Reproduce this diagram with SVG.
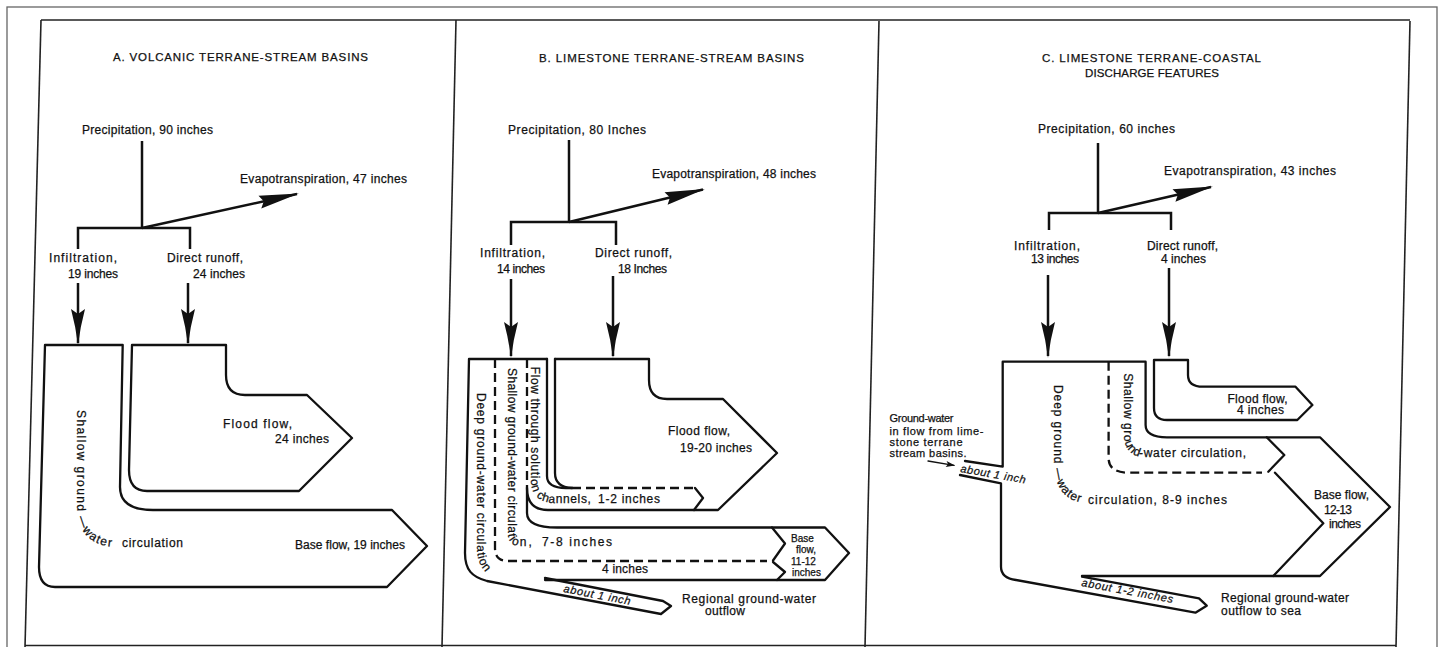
<svg xmlns="http://www.w3.org/2000/svg" width="1439" height="647" viewBox="0 0 1439 647">
<style>
.ln{fill:none;stroke:#111;stroke-width:2.3;stroke-linejoin:round;stroke-linecap:round}
.ds{fill:none;stroke:#111;stroke-width:2.3;stroke-dasharray:9 5}
.fr{fill:none;stroke:#222;stroke-width:1.6}
.of{fill:none;stroke:#666;stroke-width:1.3}
.ar{fill:none;stroke:#111;stroke-width:2.5}
text{font-family:"Liberation Sans",Arial,sans-serif;font-size:12px;fill:#111;stroke:#111;stroke-width:0.25}
.ti{font-size:11.5px}
.sm{font-size:11px}
.xs{font-size:10px}
.it{font-style:italic;font-size:11px}
</style>
<defs>
<marker id="mV" markerUnits="userSpaceOnUse" viewBox="-36 -8 40 16" refX="0" refY="0" markerWidth="40" markerHeight="16" orient="auto" overflow="visible">
<path d="M2,0 Q-16,-2.2 -34,-7 L-29,0 L-34,7 Q-16,2.2 2,0 Z" fill="#111"/>
</marker>
<marker id="mE" markerUnits="userSpaceOnUse" viewBox="-42 -8 46 16" refX="0" refY="0" markerWidth="46" markerHeight="16" orient="auto" overflow="visible">
<path d="M2,0 L-38,-6.5 L-34,0 L-38,6.5 Z" fill="#111"/>
</marker>
<marker id="mS" markerUnits="userSpaceOnUse" viewBox="-10 -4 12 8" refX="0" refY="0" markerWidth="12" markerHeight="8" orient="auto" overflow="visible">
<path d="M1,0 L-8,-3 L-6,0 L-8,3 Z" fill="#111"/>
</marker>
<path id="pA1" d="M77,405 V505 Q77,547 119,547 H124"/>
<path id="pB1" d="M477,390 V548 Q477,572 499,581"/>
<path id="pB2" d="M508,533 Q508,546 521,546 H545"/>
<path id="pB3" d="M531,362 V480 Q531,503 555,503 H605"/>
<path id="pC1" d="M1054,382 V462 Q1054,504 1094,504"/>
<path id="pC2" d="M1124,370 V434 Q1124,457.3 1147,457.3"/>
</defs>
<rect x="0" y="0" width="1439" height="647" fill="#fff"/>

<g id="frame">
<rect class="of" x="7" y="7" width="1430" height="650"/>
<path class="fr" d="M41,20 H1410"/>
<path class="fr" d="M41,20 L25,647"/>
<path class="fr" d="M456,20 L442,647"/>
<path class="fr" d="M879,21 L865,647"/>
<path class="fr" d="M1410,21 L1396,647"/>
<path class="fr" d="M25,645.5 H1396"/>
</g>

<g id="titles">
<text class="ti" x="113" y="61" textLength="255" lengthAdjust="spacing">A. VOLCANIC TERRANE-STREAM BASINS</text>
<text class="ti" x="539" y="62" textLength="265" lengthAdjust="spacing">B. LIMESTONE TERRANE-STREAM BASINS</text>
<text class="ti" x="1042" y="61.7" textLength="219" lengthAdjust="spacing">C. LIMESTONE TERRANE-COASTAL</text>
<text class="ti" x="1085" y="77.3" textLength="134" lengthAdjust="spacing">DISCHARGE FEATURES</text>
</g>

<!-- Panel A -->
<g id="A-precipitation"><text x="82" y="134" textLength="131" lengthAdjust="spacing">Precipitation, 90 inches</text></g>
<g id="A-evapotranspiration"><text x="240" y="183" textLength="167" lengthAdjust="spacing">Evapotranspiration, 47 inches</text></g>
<g id="A-infiltration"><text x="49" y="262" textLength="68" lengthAdjust="spacing">Infiltration,</text><text x="68" y="278" textLength="50" lengthAdjust="spacing">19 inches</text></g>
<g id="A-runoff"><text x="167" y="262" textLength="76" lengthAdjust="spacing">Direct runoff,</text><text x="193" y="278" textLength="52" lengthAdjust="spacing">24 inches</text></g>
<g id="A-baseflow">
<path class="ln" d="M45,345 H122.7 L120,487 Q120,510 153,510 H392 L427,546 L387,587 H55 Q39,587 39,567 Z"/>
<text x="295" y="549" textLength="110" lengthAdjust="spacing">Base flow, 19 inches</text>
<text letter-spacing="1.4"><textPath href="#pA1" startOffset="5">Shallow ground —water</textPath></text>
<text x="122" y="547" textLength="61" lengthAdjust="spacing">circulation</text>
</g>
<g id="A-floodflow">
<path class="ln" d="M132,345 H226 V375 Q226,395 245,395 H307 L352,438 L299,491 H147 Q129,491 129,470 Z"/>
<text x="223" y="428" textLength="69" lengthAdjust="spacing">Flood flow,</text>
<text x="275" y="443" textLength="54" lengthAdjust="spacing">24 inches</text>
</g>

<!-- Panel B -->
<g id="B-precipitation"><text x="508" y="134" textLength="138" lengthAdjust="spacing">Precipitation, 80 Inches</text></g>
<g id="B-evapotranspiration"><text x="652" y="178" textLength="164" lengthAdjust="spacing">Evapotranspiration, 48 inches</text></g>
<g id="B-infiltration"><text x="480" y="257" textLength="65" lengthAdjust="spacing">Infiltration,</text><text x="497" y="272.7" textLength="48" lengthAdjust="spacing">14 inches</text></g>
<g id="B-runoff"><text x="595" y="257" textLength="77" lengthAdjust="spacing">Direct runoff,</text><text x="618" y="272.7" textLength="49" lengthAdjust="spacing">18 Inches</text></g>
<g id="B-groundwater">
<path class="ln" d="M547,359 H469 L465,553 C465,570 472,577 487,581 L661,614 L671,606 L663,601 L545,578"/>
<path class="ln" d="M547,359 V476 Q547,488 566,488 H572"/>
<path class="ds" d="M527,359 V488"/>
<path class="ds" d="M495,359 V548 Q495,561 508,561 H767"/>
<path class="ln" d="M527,488 V513 Q527,527.5 557,527.5 H825 L849,553 L825,580 H545"/>
<path class="ln" d="M772,527.5 L785,543.5 L773,560.5"/>
<path class="ln" d="M773,562 L785,572 L777,580"/>
<text letter-spacing="0.75"><textPath href="#pB1" startOffset="3">Deep ground-water circulation</textPath></text>
<text transform="translate(508,368) rotate(90)" letter-spacing="0.4">Shallow ground-water circula</text>
<text letter-spacing="2"><textPath href="#pB2" startOffset="1">tion,</textPath></text>
<text x="542" y="545.5" textLength="70" lengthAdjust="spacing">7-8 inches</text>
<text letter-spacing="0.6"><textPath href="#pB3" startOffset="4.7">Flow through solution channels,</textPath></text>
<text x="598" y="503" textLength="62" lengthAdjust="spacing">1-2 inches</text>
<text x="602" y="573.3" textLength="46" lengthAdjust="spacing">4 inches</text>
<text class="it" transform="translate(563,592) rotate(11)" textLength="68" lengthAdjust="spacing">about 1 inch</text>
<text class="xs" x="791" y="541.7">Base</text>
<text class="xs" x="796" y="552.7">flow,</text>
<text class="xs" x="791" y="565">11-12</text>
<text class="xs" x="792" y="575.5">inches</text>
<text x="682" y="603.3" textLength="134" lengthAdjust="spacing">Regional ground-water</text>
<text x="705" y="615" textLength="40" lengthAdjust="spacing">outflow</text>
</g>
<g id="B-floodflow">
<path class="ln" d="M555,359 H649 V380 Q649,399 667,399 H723 L777,453 L718,510 H548 Q527,510 527,488"/>
<path class="ln" d="M555,359 V473 Q555,487 572,488"/>
<path class="ds" d="M572,488 H695"/>
<path class="ln" d="M695,488 L703,498 L694,510"/>
<text x="668" y="435" textLength="62" lengthAdjust="spacing">Flood flow,</text>
<text x="680" y="452" textLength="72" lengthAdjust="spacing">19-20 inches</text>
</g>

<!-- Panel C -->
<g id="C-precipitation"><text x="1038" y="133.3" textLength="137" lengthAdjust="spacing">Precipitation, 60 inches</text></g>
<g id="C-evapotranspiration"><text x="1164" y="175" textLength="172" lengthAdjust="spacing">Evapotranspiration, 43 inches</text></g>
<g id="C-infiltration"><text x="1014" y="250" textLength="66" lengthAdjust="spacing">Infiltration,</text><text x="1031" y="262.7" textLength="48" lengthAdjust="spacing">13 inches</text></g>
<g id="C-runoff"><text x="1147" y="250" textLength="71" lengthAdjust="spacing">Direct runoff,</text><text x="1161" y="262.7" textLength="45" lengthAdjust="spacing">4 inches</text></g>
<g id="C-groundwater">
<path class="ln" d="M965,461 L1002.7,466.7 V361.7 H1145.6 V425 Q1145.6,437.3 1167,437.3 H1320 L1390,507 L1320,576 H1082"/>
<path class="ln" d="M1082,576.7 L1199,598.3 L1206.7,605.7 L1195.4,612.7 L1016,580 Q1001,578 1001,566.7 V483.3 L960,475"/>
<path class="ln" d="M1266.7,437.3 L1284.3,455 L1268.3,471.7"/>
<path class="ln" d="M1275,472.7 L1323.3,523.3 L1273.3,576"/>
<path class="ds" d="M1108.6,361.7 V458 Q1108.6,472.7 1129,472.7 H1262"/>
<text letter-spacing="0.9"><textPath href="#pC1" startOffset="3">Deep ground —water</textPath></text>
<text x="1088" y="504.3" textLength="139" lengthAdjust="spacing">circulation, 8-9 inches</text>
<text letter-spacing="0.55"><textPath href="#pC2" startOffset="3.3">Shallow ground</textPath></text>
<text x="1139" y="457.3" textLength="107" lengthAdjust="spacing">-water circulation,</text>
<text x="1314" y="499" textLength="55" lengthAdjust="spacing">Base flow,</text>
<text x="1324" y="513.7" textLength="28" lengthAdjust="spacing">12-13</text>
<text x="1329" y="528.3" textLength="32" lengthAdjust="spacing">inches</text>
<text class="it" transform="translate(960,472) rotate(10)" textLength="66" lengthAdjust="spacing">about 1 inch</text>
<text class="it" transform="translate(1081,586) rotate(10.5)" textLength="93" lengthAdjust="spacing">about 1-2 inches</text>
<text x="1221" y="601.7" textLength="128" lengthAdjust="spacing">Regional ground-water</text>
<text x="1221" y="615" textLength="80" lengthAdjust="spacing">outflow to sea</text>
</g>
<g id="C-inflow">
<text class="sm" x="889.5" y="422.3" textLength="64" lengthAdjust="spacing">Ground-water</text>
<text class="sm" x="889.5" y="434.5" textLength="94" lengthAdjust="spacing">in flow from lime-</text>
<text class="sm" x="889.5" y="446.3" textLength="73" lengthAdjust="spacing">stone terrane</text>
<text class="sm" x="889.5" y="456.5" textLength="77" lengthAdjust="spacing">stream basins.</text>
</g>
<g id="C-floodflow">
<path class="ln" d="M1154,360 H1188 V375 Q1188,386.7 1203,386.7 H1295.5 L1312.4,405 L1297.3,420 H1167 Q1154,420 1154,408 Z"/>
<text x="1227.5" y="402.7" textLength="60" lengthAdjust="spacing">Flood flow,</text>
<text x="1237" y="414.3" textLength="47" lengthAdjust="spacing">4 inches</text>
</g>

<g id="connectors">
<path class="ar" d="M142,141 V228"/>
<path class="ar" d="M78,249 V228 H190 V249"/>
<path class="ar" d="M142,228 L297,194" marker-end="url(#mE)"/>
<path class="ar" d="M78,283 V343" marker-end="url(#mV)"/>
<path class="ar" d="M188,283 V343" marker-end="url(#mV)"/>

<path class="ar" d="M569,140 V222"/>
<path class="ar" d="M511,245 V222 H616 V245"/>
<path class="ar" d="M569,222 L703,189.5" marker-end="url(#mE)"/>
<path class="ar" d="M511,279 V356" marker-end="url(#mV)"/>
<path class="ar" d="M613,276 V356" marker-end="url(#mV)"/>

<path class="ar" d="M1098,143 V213"/>
<path class="ar" d="M1049,230 V213 H1171 V230"/>
<path class="ar" d="M1098,213 L1211,187" marker-end="url(#mE)"/>
<path class="ar" d="M1048,275 V356" marker-end="url(#mV)"/>
<path class="ar" d="M1169,268 V356" marker-end="url(#mV)"/>

<path class="ln" style="stroke-width:1.3" d="M928,461 L954,465.3" marker-end="url(#mS)"/>
</g>
</svg>
